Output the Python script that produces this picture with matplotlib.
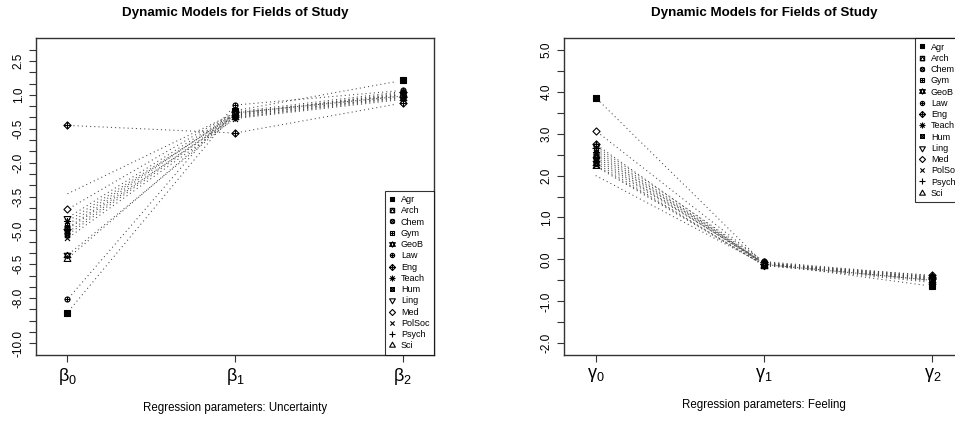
import numpy as np
import matplotlib
matplotlib.use("Agg")
import matplotlib.pyplot as plt
from matplotlib.path import Path
from matplotlib.collections import LineCollection

plt.rcParams['font.family'] = ['Liberation Sans', 'DejaVu Sans']

fields = ['Agr', 'Arch', 'Chem', 'Gym', 'GeoB', 'Law', 'Eng', 'Teach',
          'Hum', 'Ling', 'Med', 'PolSoc', 'Psych', 'Sci']
pch = [15, 14, 13, 12, 11, 10, 9, 8, 7, 6, 5, 4, 3, 2]

# uncertainty model: beta0, beta1, beta2 per field
beta0 = [-8.64, -4.90, -5.10, -4.75, -6.10, -8.06, -0.35, -4.60,
         -5.20, -4.45, -4.07, -5.35, -4.95, -6.25]
beta1 = [0.30, 0.20, 0.10, 0.15, 0.00, 0.55, -0.69, 0.10,
         0.05, 0.20, 0.25, -0.05, 0.00, 0.15]
beta2 = [1.64, 1.00, 0.90, 1.10, 0.85, 1.20, 0.64, 1.00,
         0.95, 1.05, 1.15, 0.80, 0.90, 1.00]
beta_all = [-3.38, 0.20, 0.95]   # pooled model, drawn as a plain line

# feeling model: gamma0, gamma1, gamma2 per field
gamma0 = [3.86, 2.50, 2.45, 2.60, 2.30, 2.70, 2.75, 2.55,
          2.35, 2.40, 3.07, 2.25, 2.65, 2.22]
gamma1 = [-0.10, -0.08, -0.12, -0.10, -0.15, -0.05, -0.10, -0.12,
          -0.08, -0.10, -0.07, -0.13, -0.11, -0.14]
gamma2 = [-0.64, -0.45, -0.42, -0.50, -0.48, -0.40, -0.38, -0.46,
          -0.44, -0.50, -0.42, -0.52, -0.47, -0.55]
gamma_all = [2.00, -0.12, -0.50]


def _poly(pts):
    pts = list(pts) + [pts[0]]
    codes = [Path.MOVETO] + [Path.LINETO] * (len(pts) - 2) + [Path.CLOSEPOLY]
    return Path(pts, codes)


def _seg(a, b):
    return Path([a, b], [Path.MOVETO, Path.LINETO])


def pch_path(n):
    """R-like plotting symbols built as marker paths (radius 1)."""
    sq = 0.886
    r2 = np.sqrt(2)
    tr, tyc, txc = 1.555, 0.778, 1.347
    parts = [Path([(1.6, 1.6)], [Path.MOVETO])]  # keeps a common scale
    if n == 15:
        parts.append(_poly([(-1, -1), (1, -1), (1, 1), (-1, 1)]))
    elif n == 14:
        parts += [_poly([(-1, -1), (1, -1), (1, 1), (-1, 1)]),
                  _poly([(0, 1), (1, -1), (-1, -1)])]
    elif n == 13:
        parts += [Path.circle((0, 0), 1), _seg((-sq, -sq), (sq, sq)),
                  _seg((-sq, sq), (sq, -sq))]
    elif n == 12:
        parts += [_poly([(-sq, -sq), (sq, -sq), (sq, sq), (-sq, sq)]),
                  _seg((-sq, 0), (sq, 0)), _seg((0, -sq), (0, sq))]
    elif n == 11:
        yc = 0.5 * (tyc + tr)
        parts += [_poly([(0, tr - 0.3), (txc, -yc + 0.3), (-txc, -yc + 0.3)]),
                  _poly([(0, -tr + 0.3), (txc, yc - 0.3), (-txc, yc - 0.3)])]
    elif n == 10:
        parts += [Path.circle((0, 0), 1), _seg((-1, 0), (1, 0)),
                  _seg((0, -1), (0, 1))]
    elif n == 9:
        parts += [_poly([(0, r2), (r2, 0), (0, -r2), (-r2, 0)]),
                  _seg((-r2, 0), (r2, 0)), _seg((0, -r2), (0, r2))]
    elif n == 8:
        parts += [_seg((-1, -1), (1, 1)), _seg((-1, 1), (1, -1)),
                  _seg((-r2, 0), (r2, 0)), _seg((0, -r2), (0, r2))]
    elif n == 7:
        parts += [_poly([(-sq, -sq), (sq, -sq), (sq, sq), (-sq, sq)]),
                  _seg((-sq, -sq), (sq, sq)), _seg((-sq, sq), (sq, -sq))]
    elif n == 6:
        parts.append(_poly([(0, -tr), (txc, tyc), (-txc, tyc)]))
    elif n == 5:
        parts.append(_poly([(0, r2), (r2, 0), (0, -r2), (-r2, 0)]))
    elif n == 4:
        parts += [_seg((-1, -1), (1, 1)), _seg((-1, 1), (1, -1))]
    elif n == 3:
        parts += [_seg((-r2, 0), (r2, 0)), _seg((0, -r2), (0, r2))]
    elif n == 2:
        parts.append(_poly([(0, tr), (txc, -tyc), (-txc, -tyc)]))
    return Path.make_compound_path(*parts)


def dotted(ax, xs, ys, gap=6.0):
    # dotted connectors that stop short of each point, like R's type="b"
    pts = ax.transData.transform(np.column_stack([xs, ys]))
    inv = ax.transData.inverted()
    segs = []
    for p, q in zip(pts[:-1], pts[1:]):
        d = q - p
        L = np.hypot(*d)
        if L <= 2 * gap:
            continue
        u = d / L
        segs.append(inv.transform(np.array([p + u * gap, q - u * gap])))
    ax.add_collection(LineCollection(segs, colors='#444444', linewidths=0.75,
                                     linestyles=(0, (1, 3))))


def panel(ax, series, pooled, ylo, yhi, yticks, ylabels, greek, xlabel, loc):
    x = np.array([1, 2, 3])
    ax.set_xlim(0.812, 3.188)
    pad = (yhi - ylo) * 0.04
    ax.set_ylim(ylo - pad, yhi + pad)
    ax.figure.canvas.draw()
    for i, name in enumerate(fields):
        ys = [s[i] for s in series]
        dotted(ax, x, ys)
        ax.plot(x, ys, linestyle='none', marker=pch_path(pch[i]),
                markersize=5.8, markeredgewidth=0.8, color='black',
                markerfacecolor='black' if pch[i] == 15 else 'none',
                label=name)
    dotted(ax, x, pooled, gap=0.0)
    ax.set_xticks(x)
    ax.set_xticklabels([r'$\mathregular{%s_{%d}}$' % (greek, k) for k in range(3)],
                       fontsize=13)
    ax.set_yticks(yticks)
    ax.set_yticklabels(ylabels, rotation=90, va='center', fontsize=8.5)
    ax.tick_params(direction='out', length=5, width=0.8, color='#333333')
    ax.tick_params(axis='x', pad=3)
    ax.tick_params(axis='y', pad=3)
    for sp in ax.spines.values():
        sp.set_linewidth(1.0)
        sp.set_color('#333333')
    ax.set_xlabel(xlabel, fontsize=8.3, labelpad=11)
    ax.set_title('Dynamic Models for Fields of Study', fontsize=9.6,
                 fontweight='bold', pad=16)
    leg = ax.legend(loc=loc, fontsize=6.5, frameon=True, fancybox=False,
                    borderaxespad=0, handlelength=0.7, handletextpad=0.6,
                    labelspacing=0.25, borderpad=0.5, markerscale=0.85)
    leg.get_frame().set_edgecolor('black')
    leg.get_frame().set_linewidth(0.8)


fig = plt.figure(figsize=(9.55, 4.21), dpi=100)
ax1 = fig.add_axes([36 / 955, 66 / 421, 398 / 955, 317 / 421])
ax2 = fig.add_axes([564 / 955, 66 / 421, 400 / 955, 317 / 421])

left_ticks = np.arange(-10, 3.01, 0.5)
left_shown = {-10.0, -8.0, -6.5, -5.0, -3.5, -2.0, -0.5, 1.0, 2.5}
left_labels = ['%.1f' % v if round(v, 1) in left_shown else '' for v in left_ticks]
panel(ax1, [beta0, beta1, beta2], beta_all, -10, 3, left_ticks, left_labels,
      'β', 'Regression parameters: Uncertainty', 'lower right')

right_ticks = np.arange(-2, 5.01, 0.5)
right_labels = ['%.1f' % v if v == int(v) else '' for v in right_ticks]
panel(ax2, [gamma0, gamma1, gamma2], gamma_all, -2, 5, right_ticks, right_labels,
      'γ', 'Regression parameters: Feeling', 'upper right')

fig.savefig('out.png', dpi=100)
